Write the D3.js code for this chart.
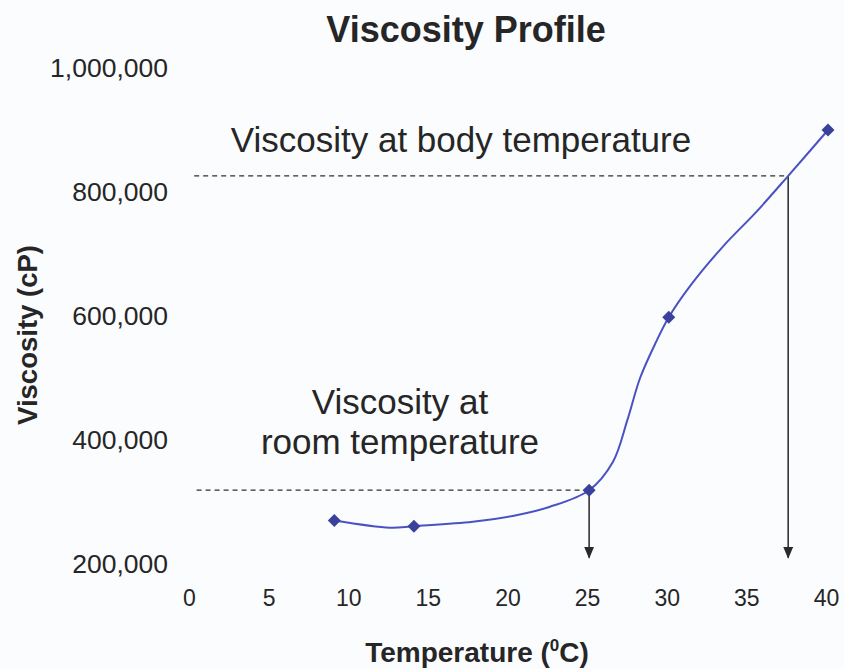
<!DOCTYPE html>
<html>
<head>
<meta charset="utf-8">
<script src="https://cdn.jsdelivr.net/npm/d3@7"></script>
<style>
  html, body { margin: 0; padding: 0; background: #fbfcfe; }
  svg { display: block; font-family: "Liberation Sans", Arial, sans-serif; }
</style>
</head>
<body>
<svg id="chart" width="844" height="669"></svg>
<script>
// ---- data ----
const xTicks = [0, 5, 10, 15, 20, 25, 30, 35, 40];
const yTicks = [200000, 400000, 600000, 800000, 1000000];
const markerTemps = [9, 14, 25, 30, 40];
const markerVisc = [270000, 261000, 319000, 598000, 900000];
const curveTemps = [9, 12.5, 14, 17.7, 20.5, 22.5, 25, 26.5, 27.4, 28.2, 29.2, 30, 31.3, 33.4, 35.5, 37.5, 40];
const curveVisc = [270000, 258500, 261000, 268000, 279000, 292000, 319000, 365000, 432000, 500000, 558000, 598000, 647000, 712000, 768000, 826000, 900000];
const refTemps = [25, 37.5];
const refVisc = [319000, 826000];
const refStart = [0.35, 0.2];
const arrowEnd = 210000;
const annotBody = ["Viscosity at body temperature"];
const annotRoom = ["Viscosity at", "room temperature"];

// ---- layout ----
const svg = d3.select("#chart");
const textCol = "#262626";
const x = d3.scaleLinear().domain([0, 40]).range([191, 828]);
const y = d3.scaleLinear().domain([200000, 1000000]).range([564, 68]);
const fmt = d3.format(",");

svg.append("defs").append("marker")
  .attr("id", "arrow").attr("viewBox", "0 0 10 12")
  .attr("refX", 5).attr("refY", 11)
  .attr("markerWidth", 10).attr("markerHeight", 12)
  .attr("markerUnits", "userSpaceOnUse")
  .attr("orient", "0")
  .append("path").attr("d", "M0,0 L10,0 L5,12 Z").attr("fill", "#2a2a2a");

// title
svg.append("text").attr("x", 466).attr("y", 42).attr("text-anchor", "middle")
  .attr("font-size", 36).attr("font-weight", "bold").attr("fill", textCol)
  .text("Viscosity Profile");

// y axis (labels only)
const yAxis = d3.axisLeft(y).tickValues(yTicks).tickFormat(fmt).tickSize(0).tickPadding(0);
const gy = svg.append("g").attr("transform", "translate(168,0)").call(yAxis);
gy.select(".domain").remove();
gy.selectAll("text").attr("font-size", 26.5).attr("fill", textCol)
  .attr("font-family", "Liberation Sans, Arial, sans-serif");

// x axis (labels only)
const xAxis = d3.axisBottom(x).tickValues(xTicks).tickFormat(d3.format("d")).tickSize(0).tickPadding(0);
const gx = svg.append("g").attr("transform", "translate(-2,590)").call(xAxis);
gx.select(".domain").remove();
gx.selectAll("text").attr("font-size", 23).attr("fill", textCol)
  .attr("font-family", "Liberation Sans, Arial, sans-serif");

// axis titles
const xt = svg.append("text").attr("x", 477).attr("y", 662).attr("text-anchor", "middle")
  .attr("font-size", 28).attr("font-weight", "bold").attr("fill", textCol);
xt.append("tspan").text("Temperature (");
xt.append("tspan").attr("font-size", 17).attr("dy", -11).text("0");
xt.append("tspan").attr("dy", 11).text("C)");

svg.append("text").attr("transform", "translate(37,335) rotate(-90)")
  .attr("text-anchor", "middle").attr("font-size", 27.5).attr("font-weight", "bold")
  .attr("fill", textCol).text("Viscosity (cP)");

// reference dashed lines
refTemps.forEach((t, i) => {
  svg.append("line")
    .attr("x1", x(refStart[i])).attr("x2", x(t))
    .attr("y1", y(refVisc[i])).attr("y2", y(refVisc[i]))
    .attr("stroke", "#2e2e2e").attr("stroke-width", 1.3).attr("stroke-dasharray", "5,4");
  svg.append("line")
    .attr("x1", x(t)).attr("x2", x(t))
    .attr("y1", y(refVisc[i])).attr("y2", y(arrowEnd))
    .attr("stroke", "#333").attr("stroke-width", 1.6)
    .attr("marker-end", "url(#arrow)");
});

// curve
const curveData = curveTemps.map((t, i) => [t, curveVisc[i]]);
svg.append("path").datum(curveData)
  .attr("fill", "none").attr("stroke", "#4a52c2").attr("stroke-width", 2)
  .attr("d", d3.line().x(d => x(d[0])).y(d => y(d[1])).curve(d3.curveCatmullRom.alpha(0.5)));

// markers
const sym = d3.symbol().type(d3.symbolSquare).size(84);
svg.append("g").selectAll("path").data(markerTemps.map((t, i) => [t, markerVisc[i]]))
  .join("path").attr("d", sym)
  .attr("transform", d => `translate(${x(d[0])},${y(d[1])}) rotate(45)`)
  .attr("fill", "#3a4199");

// annotations
svg.append("text").attr("x", 461).attr("y", 152).attr("text-anchor", "middle")
  .attr("font-size", 35).attr("fill", textCol).text(annotBody[0]);
annotRoom.forEach((s, i) => {
  svg.append("text").attr("x", 400).attr("y", 414 + i * 40).attr("text-anchor", "middle")
    .attr("font-size", 35).attr("fill", textCol).text(s);
});
</script>
</body>
</html>
